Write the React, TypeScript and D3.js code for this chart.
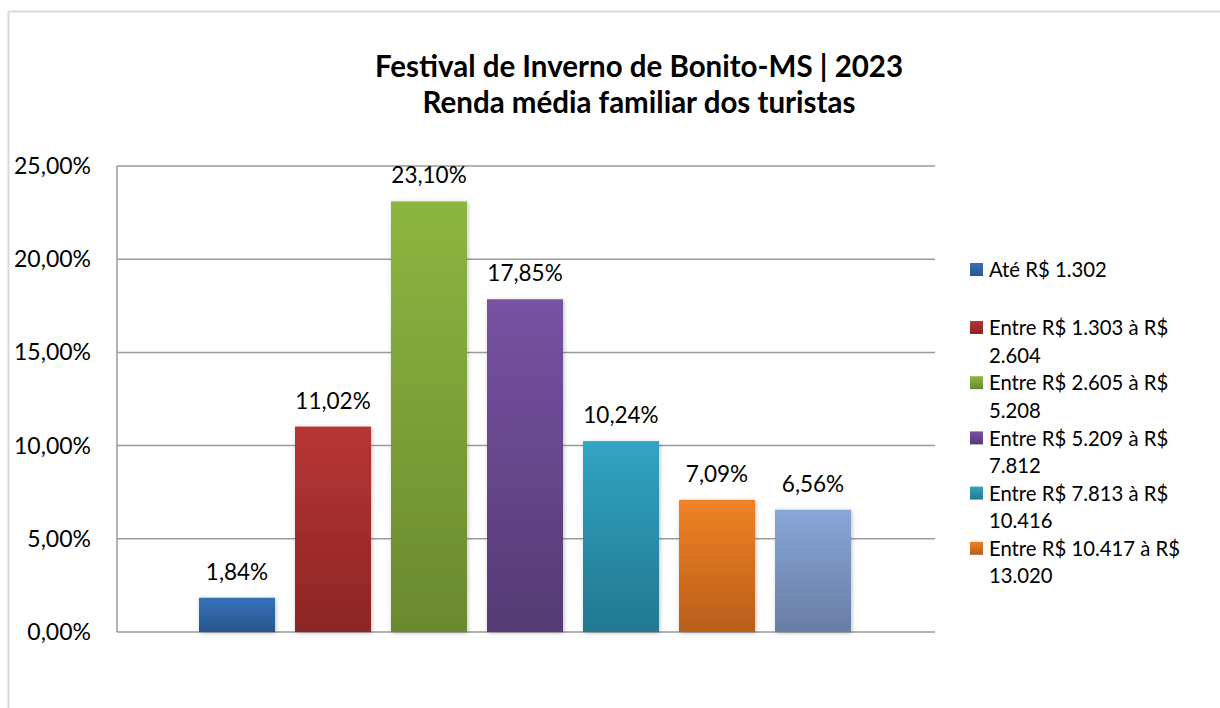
import React from "react";
import * as d3 from "d3";

const titleLines = ["Festival de Inverno de Bonito-MS | 2023", "Renda média familiar dos turistas"];
const seriesNames = [
  "Até R$ 1.302",
  "Entre R$ 1.303 à R$ 2.604",
  "Entre R$ 2.605 à R$ 5.208",
  "Entre R$ 5.209 à R$ 7.812",
  "Entre R$ 7.813 à R$ 10.416",
  "Entre R$ 10.417 à R$ 13.020",
  "Acima de R$ 13.020",
];
const legendLines = [
  ["Até R$ 1.302"],
  ["Entre R$ 1.303 à R$", "2.604"],
  ["Entre R$ 2.605 à R$", "5.208"],
  ["Entre R$ 5.209 à R$", "7.812"],
  ["Entre R$ 7.813 à R$", "10.416"],
  ["Entre R$ 10.417 à R$", "13.020"],
];
const values = [1.84, 11.02, 23.1, 17.85, 10.24, 7.09, 6.56];
const yTicks = [0, 5, 10, 15, 20, 25];
const colorsTop = ["#3671b8", "#b73535", "#8db640", "#7752a2", "#31a4c3", "#f08226", "#88a6d8"];
const colorsBottom = ["#2a568f", "#8c2525", "#6a892f", "#553a74", "#227890", "#b85e19", "#687ea3"];

const fmt = (v: number) => v.toFixed(2).replace(".", ",") + "%";
const FONT = "Lato, 'Open Sans', sans-serif";

export default function App() {
  const W = 1220, H = 708;
  const plotL = 117, plotR = 935, plotT = 166, plotB = 632;
  const y = d3.scaleLinear().domain([0, 25]).range([plotB, plotT]);
  const x = d3
    .scaleBand<string>()
    .domain(seriesNames)
    .range([189, 861])
    .paddingInner(0.2083)
    .paddingOuter(0.1042);

  return (
    <svg width={W} height={H} style={{ position: "absolute", left: 0, top: 0, background: "#fff" }}>
      <defs>
        {colorsTop.map((c, i) => (
          <linearGradient key={i} id={`g${i}`} x1="0" y1="0" x2="0" y2="1">
            <stop offset="0%" stopColor={c} />
            <stop offset="100%" stopColor={colorsBottom[i]} />
          </linearGradient>
        ))}
        <filter id="sh" x="-20%" y="-20%" width="140%" height="140%">
          <feDropShadow dx="1" dy="1" stdDeviation="2" floodColor="#000" floodOpacity="0.25" />
        </filter>
      </defs>
      <rect x={0} y={0} width={W} height={H} fill="#fff" />
      <line x1={8} x2={W} y1={11.5} y2={11.5} stroke="#d9d9d9" strokeWidth={2} />
      <line x1={8.5} x2={8.5} y1={11} y2={H} stroke="#d9d9d9" strokeWidth={2} />

      {titleLines.map((t, i) => (
        <text
          key={i}
          x={639}
          y={76.5 + i * 36}
          textAnchor="middle"
          fontFamily={FONT}
          fontWeight="bold"
          fontSize={29.5}
          fill="#000"
        >
          {t}
        </text>
      ))}

      {yTicks.map((t) => (
        <g key={t}>
          <line x1={plotL} x2={plotR} y1={y(t)} y2={y(t)} stroke="#9a9a9a" strokeWidth={1.5} />
          <text
            x={91}
            y={y(t)}
            dy="0.35em"
            textAnchor="end"
            fontFamily={FONT}
            fontSize={23}
            fill="#000"
          >
            {fmt(t)}
          </text>
        </g>
      ))}
      <line x1={plotL} x2={plotL} y1={plotT} y2={plotB} stroke="#9a9a9a" strokeWidth={1.5} />

      {values.map((v, i) => {
        const xs = x(seriesNames[i])!;
        return (
          <g key={i}>
            <rect
              x={xs}
              y={y(v)}
              width={x.bandwidth()}
              height={plotB - y(v)}
              fill={`url(#g${i})`}
              filter="url(#sh)"
            />
            <text
              x={xs + x.bandwidth() / 2}
              y={y(v) - 18}
              textAnchor="middle"
              fontFamily={FONT}
              fontSize={22.5}
              fill="#000"
            >
              {fmt(v)}
            </text>
          </g>
        );
      })}

      {legendLines.map((lines, i) => {
        const ly = 270 + (i === 0 ? 0 : 58 + (i - 1) * 55.2);
        return (
          <g key={i}>
            <rect x={970} y={ly - 7} width={13} height={13} fill={`url(#g${i})`} />
            {lines.map((l, j) => (
              <text
                key={j}
                x={989}
                y={ly + j * 27.5}
                dy="0.35em"
                fontFamily={FONT}
                fontSize={20.3}
                fill="#000"
              >
                {l}
              </text>
            ))}
          </g>
        );
      })}
    </svg>
  );
}
